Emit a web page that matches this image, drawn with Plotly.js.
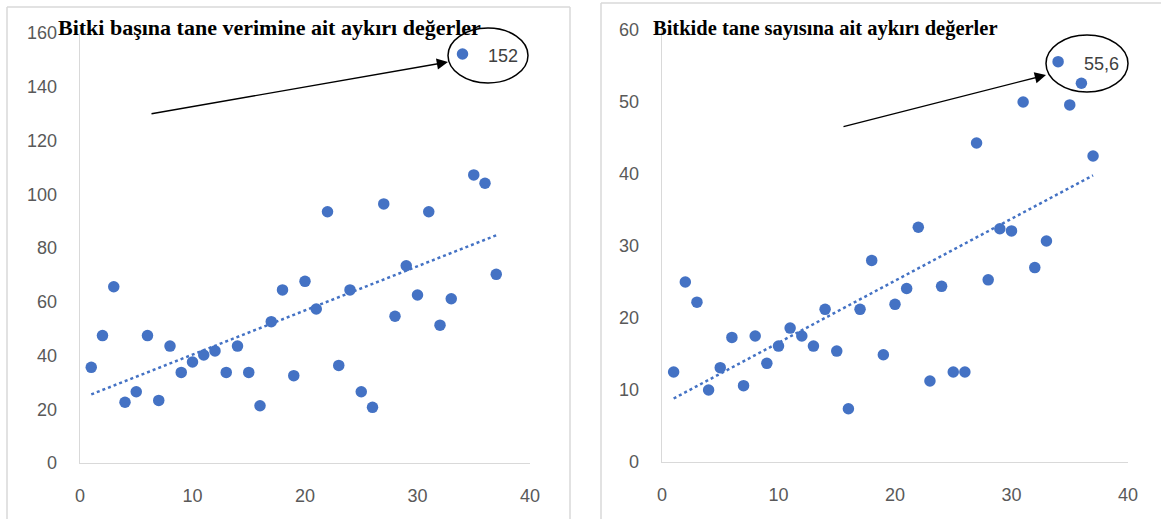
<!DOCTYPE html>
<html>
<head>
<meta charset="utf-8">
<script src="https://cdn.plot.ly/plotly-3.0.1.min.js"></script>
<style>
html,body{margin:0;padding:0;background:#fff;}
#chart{width:1161px;height:519px;}
</style>
</head>
<body>
<div id="chart"></div>
<script>
// ---- Data ----
const plantNo = [1,2,3,4,5,6,7,8,9,10,11,12,13,14,15,16,17,18,19,20,21,22,23,24,25,26,27,28,29,30,31,32,33,34,35,36,37];
const grainYield = [35.6,47.4,65.6,22.6,26.5,47.4,23.3,43.5,33.7,37.6,40.2,41.7,33.7,43.5,33.7,21.3,52.6,64.4,32.5,67.6,57.3,93.5,36.3,64.4,26.5,20.7,96.4,54.6,73.4,62.5,93.5,51.3,61.1,152.2,107.2,104.1,70.2];
const grainCount = [12.5,25.0,22.2,10.0,13.1,17.3,10.6,17.5,13.7,16.1,18.6,17.5,16.1,21.2,15.4,7.4,21.2,28.0,14.9,21.9,24.1,32.6,11.25,24.4,12.5,12.5,44.3,25.3,32.4,32.1,50.0,27.0,30.7,55.6,49.6,52.6,42.5];
const titleLeft = "Bitki başına tane verimine ait aykırı değerler";
const titleRight = "Bitkide tane sayısına ait aykırı değerler";
const outlierLeftLabel = "152";
const outlierRightLabel = "55,6";
const outlierIndex = 33;

// ---- helpers ----
const W = 1161, H = 519;
const px = x => x / W;
const py = y => (H - y) / H;

function linreg(xs, ys){
  const n = xs.length;
  let sx=0, sy=0, sxx=0, sxy=0;
  for(let i=0;i<n;i++){ sx+=xs[i]; sy+=ys[i]; sxx+=xs[i]*xs[i]; sxy+=xs[i]*ys[i]; }
  const b = (n*sxy - sx*sy)/(n*sxx - sx*sx);
  const a = (sy - b*sx)/n;
  return {a, b};
}
function trendTrace(xs, ys, xa, ya){
  const r = linreg(xs, ys);
  const x0 = Math.min(...xs), x1 = Math.max(...xs);
  return {x:[x0,x1], y:[r.a + r.b*x0, r.a + r.b*x1], mode:'lines', type:'scatter',
    xaxis:xa, yaxis:ya, line:{color:'#4472C4', width:2.5, dash:'dot'}, hoverinfo:'skip', showlegend:false};
}

const blue = '#4472C4';
const traces = [
  trendTrace(plantNo, grainYield, 'x', 'y'),
  {x:plantNo, y:grainYield, mode:'markers', type:'scatter', xaxis:'x', yaxis:'y',
   marker:{color:blue, size:11.5}, showlegend:false},
  trendTrace(plantNo, grainCount, 'x2', 'y2'),
  {x:plantNo, y:grainCount, mode:'markers', type:'scatter', xaxis:'x2', yaxis:'y2',
   marker:{color:blue, size:11.5}, showlegend:false}
];

const tickFont = {family:'Liberation Sans, Arial, sans-serif', size:18, color:'#595959'};
const axisCommon = {showgrid:false, zeroline:false, showline:true, linecolor:'#d9d9d9', linewidth:1.3,
  ticks:'', tickfont:tickFont, fixedrange:true};

const layout = {
  width:W, height:H,
  margin:{l:0,r:0,t:0,b:0},
  paper_bgcolor:'#ffffff', plot_bgcolor:'rgba(0,0,0,0)',
  showlegend:false,
  xaxis: Object.assign({}, axisCommon, {domain:[px(80), px(530)], range:[0,40], tickvals:[0,10,20,30,40], anchor:'y', ticklabelstandoff:16}),
  yaxis: Object.assign({}, axisCommon, {domain:[py(463), py(33)], range:[0,160], tickvals:[0,20,40,60,80,100,120,140,160], anchor:'x', ticklabelstandoff:18}),
  xaxis2: Object.assign({}, axisCommon, {domain:[px(662), px(1128)], range:[0,40], tickvals:[0,10,20,30,40], anchor:'y2', ticklabelstandoff:16}),
  yaxis2: Object.assign({}, axisCommon, {domain:[py(462), py(30)], range:[0,60], tickvals:[0,10,20,30,40,50,60], anchor:'x2', ticklabelstandoff:18}),
  shapes:[
    // panel borders
    {type:'line', xref:'paper', yref:'paper', x0:px(7), x1:px(570), y0:py(7), y1:py(7), line:{color:'#d9d9d9', width:1.5}},
    {type:'line', xref:'paper', yref:'paper', x0:px(7), x1:px(7), y0:py(7), y1:py(530), line:{color:'#d9d9d9', width:1.5}},
    {type:'line', xref:'paper', yref:'paper', x0:px(570), x1:px(570), y0:py(7), y1:py(530), line:{color:'#d9d9d9', width:1.5}},
    {type:'line', xref:'paper', yref:'paper', x0:px(601), x1:px(1170), y0:py(3), y1:py(3), line:{color:'#d9d9d9', width:1.5}},
    {type:'line', xref:'paper', yref:'paper', x0:px(601), x1:px(601), y0:py(3), y1:py(530), line:{color:'#d9d9d9', width:1.5}},
    // ellipses
    {type:'circle', xref:'paper', yref:'paper', x0:px(448), x1:px(528), y0:py(83), y1:py(28), line:{color:'#000', width:1.5}},
    {type:'circle', xref:'paper', yref:'paper', x0:px(1046), x1:px(1128), y0:py(92), y1:py(35), line:{color:'#000', width:1.5}}
  ],
  annotations:[
    {xref:'paper', yref:'paper', x:px(56), y:py(27), xanchor:'left', yanchor:'middle', showarrow:false,
     text:'<b>'+titleLeft+'</b>', font:{family:'Liberation Serif, Times New Roman, serif', size:22, color:'#000'}},
    {xref:'paper', yref:'paper', x:px(651), y:py(28), xanchor:'left', yanchor:'middle', showarrow:false,
     text:'<b>'+titleRight+'</b>', font:{family:'Liberation Serif, Times New Roman, serif', size:20.5, color:'#000'}},
    {xref:'x', yref:'y', x:plantNo[outlierIndex], y:grainYield[outlierIndex], xshift:40, yshift:-2, showarrow:false,
     text:outlierLeftLabel, font:{family:'Liberation Sans, Arial, sans-serif', size:18, color:'#404040'}},
    {xref:'x2', yref:'y2', x:plantNo[outlierIndex], y:grainCount[outlierIndex], xshift:43, yshift:-2, showarrow:false,
     text:outlierRightLabel, font:{family:'Liberation Sans, Arial, sans-serif', size:18, color:'#404040'}},
    // arrows
    {xref:'paper', yref:'paper', x:px(448), y:py(62), ax:-298, ay:52, text:'', showarrow:true,
     arrowhead:2, arrowsize:1.6, arrowwidth:1.4, arrowcolor:'#000'},
    {xref:'paper', yref:'paper', x:px(1046), y:py(75), ax:-204, ay:52, text:'', showarrow:true,
     arrowhead:2, arrowsize:1.6, arrowwidth:1.4, arrowcolor:'#000'}
  ]
};

Plotly.newPlot('chart', traces, layout, {staticPlot:true, displayModeBar:false});
</script>
</body>
</html>
